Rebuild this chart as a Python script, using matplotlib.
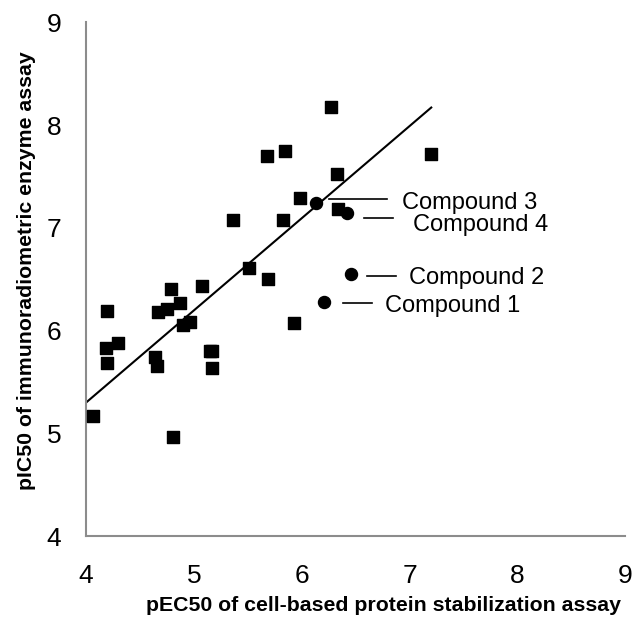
import matplotlib.pyplot as plt

plt.rcParams["font.family"] = ["Liberation Sans", "DejaVu Sans"]

# Reference compounds (squares)
ref_x = [4.06, 4.19, 4.18, 4.19, 4.30, 4.67, 4.75, 4.79, 4.87, 4.90,
         4.96, 5.07, 4.64, 4.66, 4.81, 5.15, 5.17, 5.17, 5.51, 5.69,
         5.36, 5.83, 5.98, 5.68, 5.84, 6.33, 6.34, 6.27, 7.20, 5.93]
ref_y = [5.17, 6.19, 5.83, 5.68, 5.88, 6.18, 6.21, 6.40, 6.27, 6.05,
         6.08, 6.43, 5.74, 5.66, 4.96, 5.80, 5.80, 5.64, 6.61, 6.50,
         7.08, 7.08, 7.29, 7.70, 7.75, 7.52, 7.18, 8.18, 7.72, 6.07]

# Highlighted compounds (circles)
cmp_names = ["Compound 1", "Compound 2", "Compound 3", "Compound 4"]
cmp_x = [6.21, 6.46, 6.13, 6.42]
cmp_y = [6.28, 6.55, 7.24, 7.14]

# Trend line end points
trend_x = [4.0, 7.2]
trend_y = [5.30, 8.17]

fig = plt.figure(figsize=(6.33, 6.17), dpi=100)
ax = fig.add_axes([0.136, 0.131, 0.852, 0.833])

ax.plot(trend_x, trend_y, color="black", linewidth=1.5)
ax.scatter(ref_x, ref_y, marker="s", s=85, color="black", zorder=3)
ax.scatter(cmp_x, cmp_y, marker="o", s=75, color="black", zorder=3)

# leader line (start, end, y) and text position per compound
label_pos = {
    "Compound 1": ((6.38, 6.65, 6.27), (6.77, 6.24)),
    "Compound 2": ((6.60, 6.87, 6.53), (6.99, 6.51)),
    "Compound 3": ((6.25, 6.79, 7.28), (6.93, 7.24)),
    "Compound 4": ((6.58, 6.85, 7.10), (7.03, 7.03)),
}
for name in cmp_names:
    (x0, x1, yl), (tx, ty) = label_pos[name]
    ax.plot([x0, x1], [yl, yl], color="black", linewidth=1.2)
    ax.text(tx, ty, name, fontsize=17, va="center", ha="left")

ax.set_xlim(4, 9)
ax.set_ylim(4, 9)
ax.set_xticks(range(4, 10))
ax.set_yticks(range(4, 10))
ax.tick_params(axis="x", length=0, labelsize=19, pad=20)
ax.tick_params(axis="y", length=0, labelsize=19, pad=18)
for side in ["top", "right"]:
    ax.spines[side].set_visible(False)
for side in ["left", "bottom"]:
    ax.spines[side].set_color("#8c8c8c")
    ax.spines[side].set_linewidth(1.5)

ax.set_xlabel("pEC50 of cell-based protein stabilization assay",
              fontsize=15.3, fontweight="bold", va="top")
ax.xaxis.set_label_coords(0.552, -0.117)
ax.set_ylabel("pIC50 of immunoradiometric enzyme assay",
              fontsize=15.3, fontweight="bold", va="bottom")
ax.yaxis.set_label_coords(-0.092, 0.516)

fig.savefig("out.png", dpi=100)
